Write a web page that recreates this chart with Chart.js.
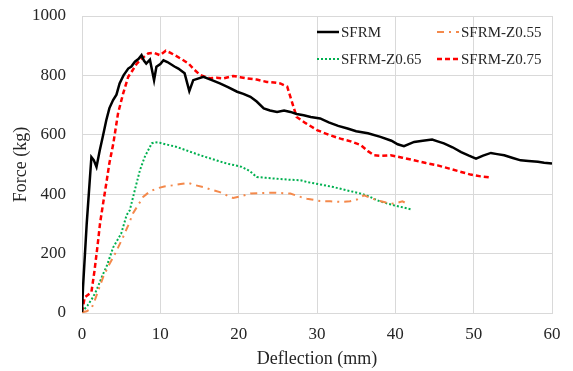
<!DOCTYPE html>
<html>
<head>
<meta charset="utf-8">
<script src="https://cdn.jsdelivr.net/npm/chart.js@4/dist/chart.umd.min.js"></script>
<style>
  html, body { margin: 0; padding: 0; background: #fff; }
  #wrap { width: 573px; height: 371px; }
</style>
</head>
<body>
<div id="wrap"><canvas id="forceChart"></canvas></div>
<script>
// ================= DATA =================

const seriesNames = ["SFRM", "SFRM-Z0.55", "SFRM-Z0.65", "SFRM-Z0.75"];

const xTicks = [0, 10, 20, 30, 40, 50, 60];
const yTicks = [0, 200, 400, 600, 800, 1000];

const sfrmX = [0, 0.13, 0.6, 1.2, 1.5, 1.85, 2.27, 2.7, 3.1, 3.5, 3.97, 4.4, 4.8, 5.3, 5.9, 6.3, 6.75, 7.2, 7.6, 7.9, 8.2, 8.67, 9.2, 9.5, 10.0, 10.4, 10.9, 11.2, 11.8, 12.3, 13.1, 13.7, 14.2, 15.5, 16.5, 17.6, 18.7, 19.8, 20.6, 21.5, 22.3, 23.2, 24.0, 24.9, 25.8, 26.6, 27.4, 28.3, 29.2, 30.4, 31.5, 32.7, 33.9, 35.0, 36.5, 38.1, 39.5, 40.3, 41.1, 42.4, 43.5, 44.7, 45.4, 46.2, 47.3, 48.4, 49.4, 50.3, 51.2, 52.2, 53.0, 53.9, 55.0, 56.0, 57.0, 58.2, 59.0, 60.0];
const sfrmY = [3, 87, 300, 525, 515, 492, 548, 599, 649, 690, 717, 735, 773, 800, 823, 830, 846, 855, 868, 850, 840, 853, 784, 829, 838, 851, 845, 840, 830, 823, 807, 747, 784, 795, 785, 773, 760, 745, 738, 728, 712, 689, 682, 677, 682, 677, 670, 666, 660, 655, 642, 630, 621, 612, 605, 593, 580, 568, 562, 576, 580, 584, 578, 571, 558, 542, 530, 520, 530, 539, 535, 531, 522, 514, 512, 509, 506, 503];

const z055X = [0, 0.6, 1.2, 1.6, 2.2, 2.7, 3.4, 4.0, 4.6, 5.25, 5.9, 6.5, 7.2, 7.8, 8.6, 9.5, 10.5, 11.65, 12.6, 13.6, 14.5, 15.5, 16.5, 17.6, 18.5, 19.3, 20.4, 21.5, 23.0, 24.5, 25.3, 26.6, 27.9, 28.7, 30.4, 31.7, 33.0, 34.2, 35.1, 36.0, 36.8, 37.7, 38.8, 39.8, 40.4, 40.9, 41.2];
const z055Y = [2, 6, 15, 40, 85, 121, 160, 188, 220, 256, 295, 335, 365, 391, 408, 419, 426, 430, 434, 438, 430, 424, 415, 407, 396, 387, 394, 402, 404, 405, 404, 402, 391, 385, 377, 376, 374, 376, 382, 396, 388, 379, 372, 368, 372, 376, 372];

const z065X = [0, 0.7, 1.4, 1.84, 2.7, 3.1, 4.0, 5.0, 5.7, 6.1, 6.8, 7.4, 8.0, 8.9, 9.3, 9.95, 11.0, 12.1, 13.6, 15.1, 16.8, 18.5, 19.4, 20.4, 21.4, 22.3, 23.5, 24.9, 26.4, 27.9, 28.7, 30.4, 32.1, 33.8, 35.6, 36.7, 37.7, 38.8, 39.8, 40.9, 42.0];
const z065Y = [3, 25, 53, 76, 132, 154, 222, 267, 330, 346, 420, 481, 525, 571, 575, 573, 566, 559, 545, 531, 517, 503, 498, 492, 478, 458, 455, 452, 449, 447, 441, 433, 424, 413, 402, 392, 379, 370, 363, 356, 349];

const z075X = [0, 0.35, 1.2, 1.6, 2.0, 2.3, 2.7, 3.1, 3.5, 4.0, 4.6, 5.25, 5.9, 6.4, 7.0, 7.7, 8.45, 9.2, 9.95, 10.7, 11.3, 11.85, 12.7, 13.6, 14.3, 15.1, 16.35, 17.2, 18.05, 19.3, 20.2, 21.0, 22.3, 23.6, 24.5, 25.3, 26.2, 26.8, 27.4, 28.5, 30.0, 31.5, 33.0, 34.3, 35.6, 36.5, 37.3, 38.3, 39.4, 40.9, 42.4, 43.9, 45.4, 46.9, 48.4, 49.6, 50.9, 52.3];
const z075Y = [3, 53, 70, 143, 230, 301, 370, 436, 505, 571, 672, 739, 795, 815, 840, 858, 874, 876, 868, 883, 876, 868, 855, 840, 820, 801, 790, 792, 790, 798, 794, 790, 786, 778, 776, 773, 762, 711, 660, 640, 616, 600, 587, 578, 565, 545, 531, 529, 531, 523, 514, 505, 497, 486, 475, 466, 460, 456];

function toPoints(xs, ys) {
  return xs.map((x, i) => ({ x: x, y: ys[i] }));
}

// ================= LEGEND (inside plot, two columns) =================

const legendStyles = [
  { color: "#000000", width: 2.5, dash: [] },
  { color: "#f4894b", width: 2, dash: [7, 5, 2, 5] },
  { color: "#00b050", width: 2, dash: [2, 2] },
  { color: "#ff0000", width: 2.5, dash: [5, 3] }
];

const insideLegend = {
  id: "insideLegend",
  afterDraw(chart) {
    const ctx = chart.ctx;
    const area = chart.chartArea;
    const cols = [area.left + 235, area.left + 355];
    const rows = [area.top + 16, area.top + 43];
    ctx.save();
    ctx.font = "15px 'Liberation Serif', 'Times New Roman', serif";
    ctx.fillStyle = "#262626";
    ctx.textBaseline = "middle";
    seriesNames.forEach((name, i) => {
      const cx = cols[i % 2];
      const cy = rows[Math.floor(i / 2)];
      const st = legendStyles[i];
      ctx.beginPath();
      ctx.strokeStyle = st.color;
      ctx.lineWidth = st.width;
      ctx.setLineDash(st.dash);
      ctx.moveTo(cx, cy);
      ctx.lineTo(cx + 22, cy);
      ctx.stroke();
      ctx.setLineDash([]);
      ctx.fillText(name, cx + 24, cy + 1);
    });
    ctx.restore();
  }
};

// ================= CHART =================

const serif = "'Liberation Serif', 'Times New Roman', serif";
const gridColor = "#d9d9d9";
const textColor = "#262626";

function noEdgePadding(scale) {
  scale.paddingTop = 0;
  scale.paddingBottom = 0;
  scale.paddingLeft = 0;
  scale.paddingRight = 0;
}

const ctx = document.getElementById("forceChart").getContext("2d");
const forceChart = new Chart(ctx, {
  type: "line",
  data: {
    datasets: [
      { label: seriesNames[0], data: toPoints(sfrmX, sfrmY) },
      { label: seriesNames[1], data: toPoints(z055X, z055Y) },
      { label: seriesNames[2], data: toPoints(z065X, z065Y) },
      { label: seriesNames[3], data: toPoints(z075X, z075Y) }
    ].map((ds, i) => Object.assign(ds, {
      borderColor: legendStyles[i].color,
      borderWidth: legendStyles[i].width,
      borderDash: legendStyles[i].dash,
      pointRadius: 0,
      tension: 0,
      fill: false
    }))
  },
  options: {
    responsive: true,
    maintainAspectRatio: false,
    animation: false,
    layout: { padding: { left: 0, right: 21, top: 16, bottom: 0 } },
    plugins: {
      legend: { display: false },
      tooltip: { enabled: false }
    },
    scales: {
      x: {
        type: "linear",
        min: 0,
        max: 60,
        afterBuildTicks: (scale) => { scale.ticks = xTicks.map(v => ({ value: v })); },
        afterFit: (scale) => { scale.height = 58; noEdgePadding(scale); },
        grid: { color: gridColor, drawTicks: false },
        border: { color: gridColor },
        ticks: { color: textColor, padding: 11, font: { family: serif, size: 17 }, callback: (v) => String(v) },
        title: { display: true, text: "Deflection (mm)", color: textColor, padding: { top: 1, bottom: 1 }, font: { family: serif, size: 18 } }
      },
      y: {
        min: 0,
        max: 1000,
        afterBuildTicks: (scale) => { scale.ticks = yTicks.map(v => ({ value: v })); },
        afterFit: (scale) => { scale.width = 82; noEdgePadding(scale); },
        grid: { color: gridColor, drawTicks: false },
        border: { color: gridColor },
        ticks: { color: textColor, padding: 16, font: { family: serif, size: 17 }, callback: (v) => String(v) },
        title: { display: true, text: "Force (kg)", color: textColor, padding: { top: 10, bottom: 10 }, font: { family: serif, size: 18 } }
      }
    }
  },
  plugins: [insideLegend]
});
</script>
</body>
</html>
